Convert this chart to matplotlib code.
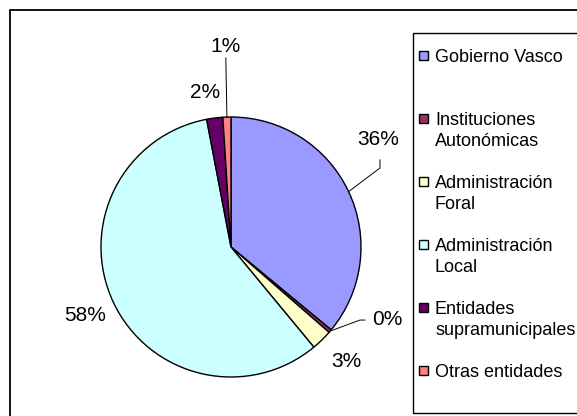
import numpy as np
import matplotlib
matplotlib.use("Agg")
import matplotlib.pyplot as plt
from matplotlib.patches import Rectangle

plt.rcParams['font.family'] = ['Liberation Sans', 'DejaVu Sans']

# Data
categories = ["Gobierno Vasco", "Instituciones\nAutonómicas", "Administración\nForal",
              "Administración\nLocal", "Entidades\nsupramunicipales", "Otras entidades"]
shares = [36.0, 0.4, 2.6, 58.0, 2.0, 1.0]
pct_labels = ["36%", "0%", "3%", "58%", "2%", "1%"]
colors = ["#9999FF", "#993366", "#FFFFCC", "#CCFFFF", "#660066", "#FF8080"]

# label positions (in pie radius units), and leader-line elbows (None = no line)
label_pos = [(1.13, 0.83), (1.20, -0.56), (0.89, -0.88), (-1.12, -0.53), (-0.20, 1.19), (-0.04, 1.54)]
leader_pts = [[(1.146, 0.608), (1.146, 0.67)],
              [(0.992, -0.562), (1.03, -0.562)],
              None, None, None,
              [(-0.04, 1.454)]]

W, H = 577, 416
R = 130.0          # pie radius in pixels
cx, cy = 231, 247  # pie centre in pixels (from top)

fig = plt.figure(figsize=(W / 100, H / 100), dpi=100)
ax = fig.add_axes([0, 0, 1, 1])

wedges, _ = ax.pie(shares, colors=colors, startangle=90, counterclock=False,
                   radius=1.0, wedgeprops=dict(edgecolor="black", linewidth=1.0))

# pie() resets limits/aspect, so set them afterwards (1 unit = R pixels)
ax.set_aspect("auto")
ax.set_xlim(-cx / R, (W - cx) / R)
ax.set_ylim(-(H - cy) / R, cy / R)
ax.axis("off")

for i, w in enumerate(wedges):
    mid = np.deg2rad((w.theta1 + w.theta2) / 2)
    if leader_pts[i] is not None:
        xs = [np.cos(mid)] + [p[0] for p in leader_pts[i]]
        ys = [np.sin(mid)] + [p[1] for p in leader_pts[i]]
        ax.plot(xs, ys, color="black", linewidth=0.7)
    ax.text(label_pos[i][0], label_pos[i][1], pct_labels[i], fontsize=15,
            ha="center", va="center")

# outer chart frame
fig.patches.append(Rectangle((9.5 / W, -0.1), 1.2, 1.1 - 10 / H, transform=fig.transFigure,
                             fill=False, edgecolor="black", linewidth=1.3))

# legend box
fig.patches.append(Rectangle((413 / W, 1 - 413 / H), 0.5, (413 - 33) / H,
                             transform=fig.transFigure, fill=False,
                             edgecolor="black", linewidth=1.0))

for i, (lab, col) in enumerate(zip(categories, colors)):
    yc = 55 + i * 63.0
    fig.patches.append(Rectangle((419 / W, 1 - (yc + 4.5) / H), 8.5 / W, 8.5 / H,
                                 transform=fig.transFigure, facecolor=col,
                                 edgecolor="black", linewidth=1.0))
    for j, line in enumerate(lab.split("\n")):
        fig.text(435 / W, 1 - (yc + 7 + j * 21) / H, line, fontsize=13,
                 ha="left", va="baseline")

fig.savefig("out.png", dpi=100, facecolor="white")
